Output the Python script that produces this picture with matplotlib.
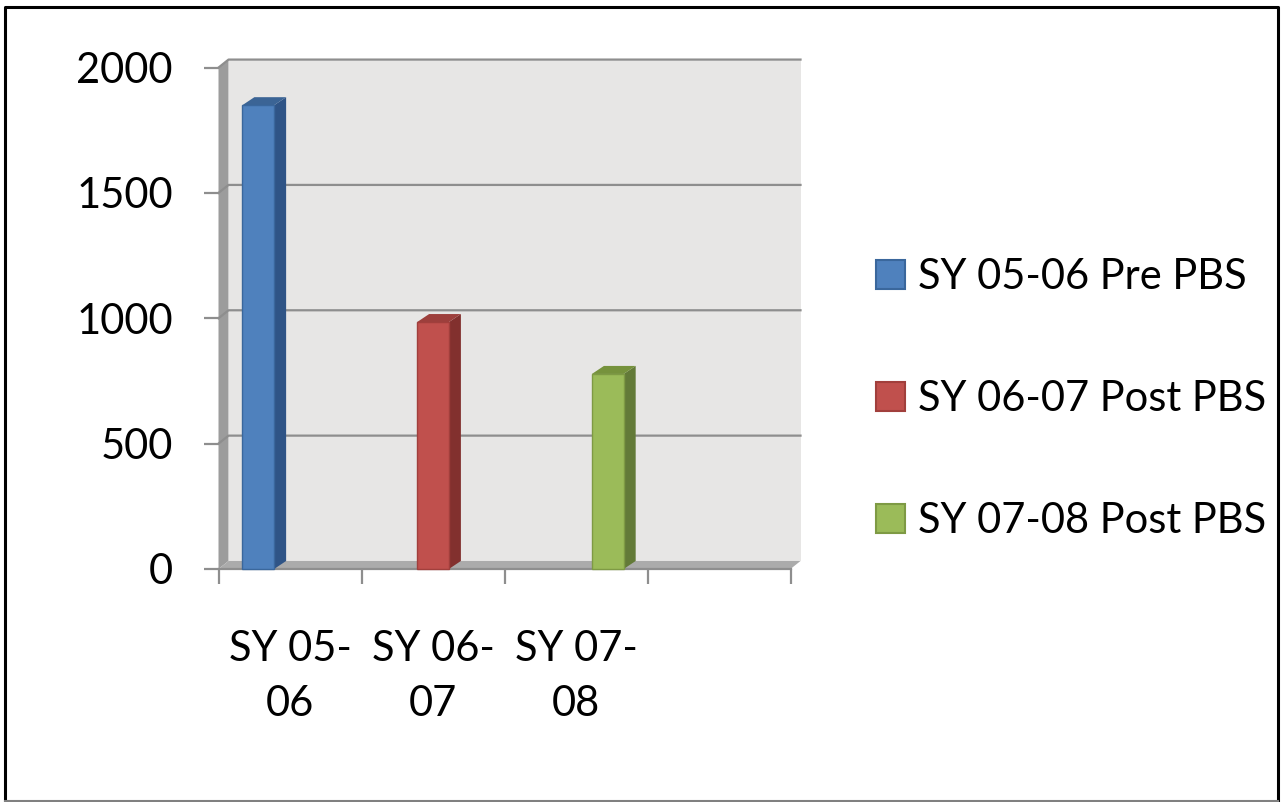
import numpy as np
import matplotlib
matplotlib.use("Agg")
from matplotlib import pyplot as plt
from matplotlib.patches import Polygon, Rectangle, Patch
from matplotlib.lines import Line2D

plt.rcParams['font.family'] = ['Lato', 'DejaVu Sans']

# data
categories = ['SY 05-\n06', 'SY 06-\n07', 'SY 07-\n08', '']
series = ['SY 05-06 Pre PBS', 'SY 06-07 Post PBS', 'SY 07-08 Post PBS']
values = [1850, 985, 778]
yticks = [0, 500, 1000, 1500, 2000]

front_col = ['#4F81BD', '#C0504D', '#9BBB59']
side_col = ['#2F5486', '#82302E', '#637A38']
top_col = ['#3B6495', '#9D3F3C', '#76923C']
edge_col = ['#3A679C', '#A13F3C', '#7E9A44']

fig = plt.figure(figsize=(12.81, 8.02), dpi=100)
W, H = 1281, 802
ax = fig.add_axes([218.5 / W, 233 / H, 572 / W, 501.4 / H])
ax.set_xlim(0, 4)
ax.set_ylim(0, 2000)

# 3d offsets (x in category units, y in value units)
dxw, dyw = 0.07, 32
dxb, dyb = 0.084, 32

# back wall, side wall, floor
ax.add_patch(Rectangle((dxw, dyw), 4, 2000, facecolor='#E7E6E5', edgecolor='none',
                       clip_on=False, zorder=1))
ax.add_patch(Polygon([(0, 0), (dxw, dyw), (dxw, 2000 + dyw), (0, 2000)], closed=True,
                     facecolor='#9C9C9C', edgecolor='none', clip_on=False, zorder=2))
ax.add_patch(Polygon([(0, 0), (4, 0), (4 + dxw, dyw), (dxw, dyw)], closed=True,
                     facecolor='#ABABAB', edgecolor='none', clip_on=False, zorder=2))

for v in yticks[1:]:
    ax.add_line(Line2D([0, dxw, 4 + dxw], [v, v + dyw, v + dyw], color='#8E8E8E',
                       lw=1.6, clip_on=False, zorder=3))
ax.add_line(Line2D([0, 4], [0, 0], color='#8E8E8E', lw=1.6, clip_on=False, zorder=3))

# bars
w = 1 / 4.5
for k, v in enumerate(values):
    left = k + 0.75 * w + k * w
    ax.add_patch(Polygon([(left + w, 0), (left + w + dxb, dyb), (left + w + dxb, v + dyb),
                          (left + w, v)], closed=True, facecolor=side_col[k],
                         edgecolor='none', clip_on=False, zorder=5))
    ax.add_patch(Polygon([(left, v), (left + w, v), (left + w + dxb, v + dyb),
                          (left + dxb, v + dyb)], closed=True, facecolor=top_col[k],
                         edgecolor='none', clip_on=False, zorder=5))
    ax.add_patch(Rectangle((left, 0), w, v, facecolor=front_col[k], edgecolor=edge_col[k],
                           lw=1.0, clip_on=False, zorder=6))

for s in ax.spines.values():
    s.set_visible(False)
ax.set_facecolor('none')

ax.set_yticks(yticks)
ax.set_yticklabels([str(t) for t in yticks])
ax.tick_params(axis='y', length=10.8, width=1.6, color='#8E8E8E', pad=22, labelsize=30)

ax.set_xticks([0, 1, 2, 3, 4], minor=True)
ax.set_xticks([0.5, 1.5, 2.5, 3.5])
ax.set_xticklabels(categories, linespacing=1.55)
ax.tick_params(axis='x', which='minor', length=10.8, width=1.6, color='#8E8E8E')
ax.tick_params(axis='x', which='major', length=0, pad=44, labelsize=30)

handles = [Patch(facecolor=front_col[k], edgecolor=edge_col[k], lw=1.5) for k in range(3)]
fig.legend(handles, series, loc='center left', bbox_to_anchor=(876 / W, 1 - 399 / H),
           frameon=False, fontsize=30, handlelength=0.7, handleheight=0.7,
           handletextpad=0.3, labelspacing=2.02, borderpad=0, borderaxespad=0)

# outer border
fig.add_artist(Line2D([4.5 / W, 4.5 / W, 1277.5 / W, 1277.5 / W], [1 - 800 / H, 1 - 6.5 / H, 1 - 6.5 / H, 1 - 800 / H],
                      transform=fig.transFigure, color='black', lw=2.2))
fig.add_artist(Line2D([4.5 / W, 1277.5 / W], [1 - 800.5 / H, 1 - 800.5 / H],
                      transform=fig.transFigure, color='#808080', lw=1.5))

fig.savefig('out.png', dpi=100)
